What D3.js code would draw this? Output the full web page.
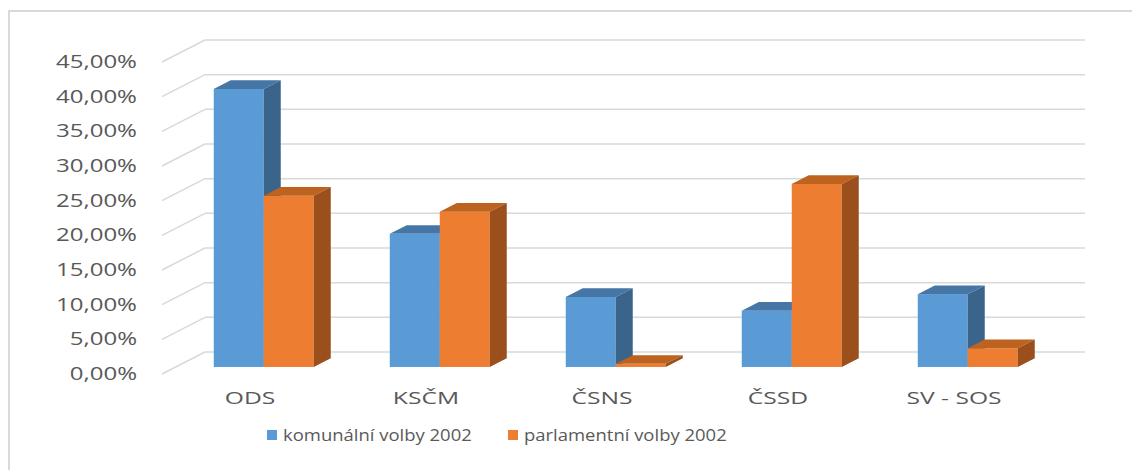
<!DOCTYPE html>
<html>
<head>
<meta charset="utf-8">
<script src="https://d3js.org/d3.v7.min.js"></script>
<style>
  body { margin: 0; background: #fff; }
  svg { display: block; }
</style>
</head>
<body>
<svg width="1132" height="470"></svg>
<script>
// data
var categories = ["ODS", "KSČM", "ČSNS", "ČSSD", "SV - SOS"];
var komunalni = [0.401, 0.192, 0.101, 0.081, 0.105];
var parlamentni = [0.247, 0.224, 0.0045, 0.264, 0.027];
var seriesNames = ["komunální volby 2002", "parlamentní volby 2002"];
var tickValues = [0, 0.05, 0.10, 0.15, 0.20, 0.25, 0.30, 0.35, 0.40, 0.45];

// colours: front, top, side
var colors = [
  { front: "#5B9BD5", top: "#4676A6", side: "#3A6489" },
  { front: "#ED7D31", top: "#BD621F", side: "#9A4F1C" }
];

var svg = d3.select("svg");
var font = "'Open Sans', sans-serif";

// place a text at x,y and stretch it sideways (the original text is drawn wide)
function placeText(sel, fx, fy, stretch) {
  sel.attr("transform", function(d, i) {
    return "translate(" + fx(d, i) + "," + fy(d, i) + ") scale(" + stretch + ",1)";
  });
}

// outer chart border
svg.append("rect")
  .attr("x", 9).attr("y", 11)
  .attr("width", 1200).attr("height", 600)
  .style("fill", "none")
  .style("stroke", "#D9D9D9")
  .style("stroke-width", 2);

var x = d3.scaleBand().domain(categories).range([162, 1042]);
var y = d3.scaleLinear().domain([0, 0.45]).range([374, 62]);
var inner = d3.scaleBand().domain([0, 1]).range([38, 138]);

// full depth of the floor and where the bars sit in it
var depthX = 43, depthY = -22;
var t1 = 0.32, t2 = 0.715;

// gridlines: back wall + side wall diagonals
var grid = svg.append("g");
grid.selectAll("line.back")
  .data(tickValues)
  .enter().append("line")
    .attr("x1", 162 + depthX)
    .attr("x2", 1042 + depthX)
    .attr("y1", function(d) { return y(d) + depthY; })
    .attr("y2", function(d) { return y(d) + depthY; })
    .style("stroke", "#D9D9D9").style("stroke-width", 1.5);
grid.selectAll("line.side")
  .data(tickValues)
  .enter().append("line")
    .attr("x1", 162)
    .attr("x2", 162 + depthX)
    .attr("y1", function(d) { return y(d); })
    .attr("y2", function(d) { return y(d) + depthY; })
    .style("stroke", "#D9D9D9").style("stroke-width", 1.5);

// tick labels
svg.selectAll("text.tick")
  .data(tickValues)
  .enter().append("text")
    .call(placeText, function() { return 137; }, function(d) { return y(d) + 6; }, 1.3)
    .attr("text-anchor", "end")
    .text(function(d) { return (d * 100).toFixed(2).replace(".", ",") + "%"; })
    .style("font", "18.5px " + font)
    .style("fill", "#595959");

// bars, drawn as front / top / side faces
var bars = [];
categories.forEach(function(c, i) {
  [komunalni[i], parlamentni[i]].forEach(function(v, s) {
    bars.push({ cat: c, s: s, v: v });
  });
});

var fx = depthX * t1, fy = depthY * t1;
var bdx = depthX * (t2 - t1), bdy = depthY * (t2 - t1);

var g = svg.selectAll("g.bar")
  .data(bars)
  .enter().append("g");

g.each(function(d) {
  var el = d3.select(this);
  var x0 = x(d.cat) + inner(d.s) + fx;
  var w = inner.bandwidth();
  var yb = y(0) + fy;
  var yt = y(d.v) + fy;
  var c = colors[d.s];
  el.append("rect")
    .attr("x", x0).attr("y", yt)
    .attr("width", w).attr("height", yb - yt)
    .style("fill", c.front);
  el.append("path")
    .attr("d", "M" + x0 + "," + yt + "L" + (x0 + bdx) + "," + (yt + bdy) +
      "L" + (x0 + w + bdx) + "," + (yt + bdy) + "L" + (x0 + w) + "," + yt + "Z")
    .style("fill", c.top);
  el.append("path")
    .attr("d", "M" + (x0 + w) + "," + yt + "L" + (x0 + w + bdx) + "," + (yt + bdy) +
      "L" + (x0 + w + bdx) + "," + (yb + bdy) + "L" + (x0 + w) + "," + yb + "Z")
    .style("fill", c.side);
});

// category labels
svg.selectAll("text.cat")
  .data(categories)
  .enter().append("text")
    .call(placeText, function(d) { return x(d) + x.bandwidth() / 2; }, function() { return 404; }, 1.45)
    .attr("text-anchor", "middle")
    .text(function(d) { return d; })
    .style("font", "17px " + font)
    .style("fill", "#595959");

// legend
var legendX = [267, 508];
var legend = svg.selectAll("g.legend")
  .data(seriesNames)
  .enter().append("g")
    .attr("transform", function(d, i) { return "translate(" + legendX[i] + ",430)"; });
legend.append("rect")
  .attr("width", 10).attr("height", 10)
  .style("fill", function(d, i) { return colors[i].front; });
legend.append("text")
  .call(placeText, function() { return 16; }, function() { return 11; }, 1.12)
  .text(function(d) { return d; })
  .style("font", "16.5px " + font)
  .style("fill", "#595959");
</script>
</body>
</html>
